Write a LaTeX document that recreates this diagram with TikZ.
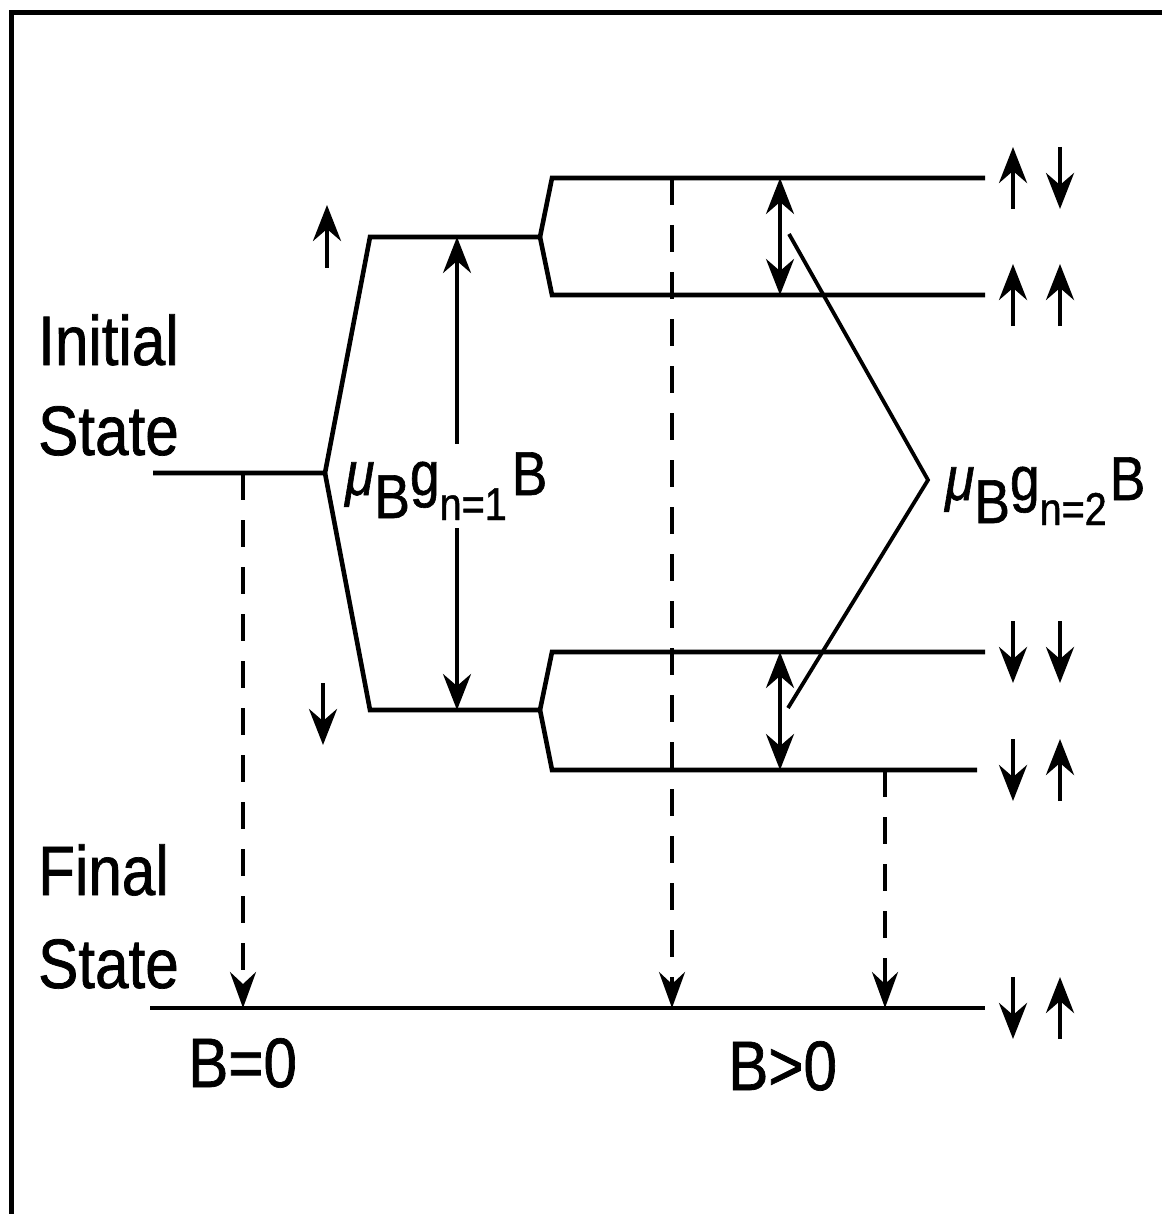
\documentclass[tikz,border=0pt]{standalone}
\usepackage{fontspec}
\usepackage{graphicx}
\usetikzlibrary{arrows.meta,calc}
\newfontfamily\plotfont{Liberation Sans}[FakeStretch=0.86,FakeBold=1]
\tikzset{
  frame/.style={line width=5pt},
  level/.style={line width=4.6pt},
  spin/.style={-{Stealth[length=36pt,width=28pt,inset=12pt]},line width=4.4pt},
  gap/.style={{Stealth[length=36pt,width=28pt,inset=12pt]}-{Stealth[length=36pt,width=28pt,inset=12pt]},line width=4pt},
  trans/.style={-{Stealth[length=36pt,width=26pt,inset=12pt]},line width=3.8pt,
                dash pattern=on 27pt off 20pt},
  guide/.style={line width=3.8pt},
  txt/.style={font=\plotfont\fontsize{70}{80}\selectfont,inner sep=0pt,anchor=base west},
  lab/.style={font=\plotfont\fontsize{62}{70}\selectfont,inner xsep=2pt,inner ysep=8pt,
              fill=white,anchor=base west},
}
\newcommand{\subbig}[1]{\raisebox{-23pt}{#1}}
\newcommand{\sublab}[1]{\raisebox{-25pt}{\fontsize{46}{48}\selectfont #1}}
\begin{document}
\begin{tikzpicture}[x=1pt,y=-1pt]
  \useasboundingbox (0,0) rectangle (1161,1214);
  \draw[frame] (11,1230) -- (11,13) -- (1175,13);
  % levels
  \coordinate (ini) at (153,473);
  \coordinate (fork) at (325,473);
  \coordinate (upA) at (370,237);
  \coordinate (upB) at (540,237);
  \coordinate (dnA) at (370,710);
  \coordinate (dnB) at (540,710);
  \coordinate (lv1) at (552,178);
  \coordinate (lv2) at (552,295);
  \coordinate (lv3) at (552,652);
  \coordinate (lv4) at (552,770);
  \coordinate (fin) at (150,1008);
  \draw[level] (ini) -- (fork) -- (upA) -- (upB);
  \draw[level] (fork) -- (dnA) -- (dnB);
  \draw[level] (upB) -- (lv1) -- ++(433,0);
  \draw[level] (upB) -- (lv2) -- ++(433,0);
  \draw[level] (dnB) -- (lv3) -- ++(433,0);
  \draw[level] (dnB) -- (lv4) -- ++(425,0);
  \draw[level] (fin) -- ++(835,0);
  % columns
  \coordinate (x1) at (243,0);
  \coordinate (x2) at (457,0);
  \coordinate (x3) at (672,0);
  \coordinate (x4) at (780,0);
  \coordinate (x5) at (885,0);
  % transitions
  \draw[trans] (x1 |- ini) -- (x1 |- fin);
  \draw[trans] (x3 |- lv1) -- (x3 |- fin);
  \draw[trans] (x5 |- lv4) -- (x5 |- fin);
  % splittings
  \draw[gap] (x2 |- upB) -- (x2 |- dnB);
  \draw[gap] (x4 |- lv1) -- (x4 |- lv2);
  \draw[gap] (x4 |- lv3) -- (x4 |- lv4);
  \coordinate (vtop) at (789,234);
  \coordinate (vtip) at (928,480);
  \coordinate (vbot) at (788,708);
  \draw[guide,line join=miter] (vtop) -- (vtip) -- (vbot);
  % spins
  \draw[spin] (327,268) -- (327,205);
  \draw[spin] (323,683) -- (323,745);
  \foreach \y/\a/\b in {178/-1/1,295/-1/-1,652/1/1,770/1/-1,1008/1/-1}{
    \draw[spin] (1013,{\y-31*\a}) -- (1013,{\y+31*\a});
    \draw[spin] (1060,{\y-31*\b}) -- (1060,{\y+31*\b});
  }
  % labels
  \node[txt] (initA) at (38,365) {Initial};
  \node[txt] (initB) at (38,455) {State};
  \node[txt] (finA) at (38,895) {Final};
  \node[txt] (finB) at (38,988) {State};
  \node[txt] (bzero) at (188,1087) {B=0};
  \node[txt] (bpos) at (728,1090) {B>0};
  \node[lab] (gone) at (343,495) {{\itshape μ}\subbig{B}g\sublab{n=1}\kern5pt B};
  \node[lab] (gtwo) at (943,500) {{\itshape μ}\subbig{B}g\sublab{n=2}\kern3pt B};
\end{tikzpicture}
\end{document}
